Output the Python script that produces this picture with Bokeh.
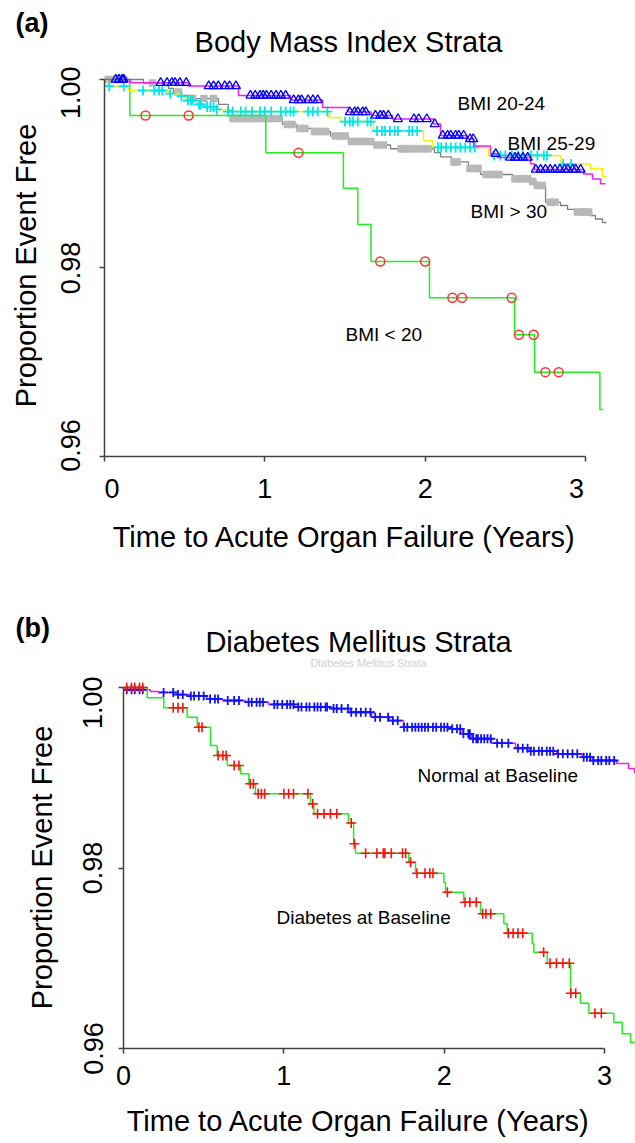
import numpy as np
from bokeh.plotting import figure
from bokeh.models import Label, FixedTicker, PrintfTickFormatter, Range1d
from bokeh.layouts import column, row
from bokeh.core.properties import value
from bokeh.embed import file_html
from bokeh.resources import INLINE

FONT = "Liberation Sans"

# ---------------- texts ----------------
title_a = "Body Mass Index Strata"
title_b = "Diabetes Mellitus Strata"
x_title = "Time to Acute Organ Failure (Years)"
y_title = "Proportion Event Free"

# ---------------- Panel (a): Body Mass Index strata ----------------
# Kaplan-Meier step curves: event times (years) and survival level after each step
bmi_lt20_t = [0, 0.158, 1.006, 1.49, 1.58, 1.6625, 2.027, 2.558, 2.683, 3.09, 3.11]
bmi_lt20_s = [1.0, 0.99618, 0.99222, 0.98847, 0.98462, 0.98069, 0.97684, 0.97291, 0.96895, 0.96499, 0.96499]
bmi_lt20_cens = [0.256, 0.525, 1.21, 1.72, 2.00, 2.17, 2.23, 2.54, 2.585, 2.677, 2.75, 2.833]

bmi_2024_t = [0, 0.162, 0.524, 0.836, 1.160, 1.360, 1.522, 1.665, 1.796, 2.052, 2.096, 2.258,
              2.302, 2.408, 2.451, 2.657, 2.682, 2.988, 3.044, 3.094, 3.125]
bmi_2024_s = [1.0, 0.99965, 0.99931, 0.9983, 0.99782, 0.99703, 0.99655, 0.99618, 0.99581, 0.99528,
              0.99406, 0.99369, 0.99294, 0.99212, 0.99172, 0.99106, 0.99045, 0.98997, 0.98944,
              0.98893, 0.98893]
bmi_2024_cens = [0.07, 0.09, 0.11, 0.12, 0.35, 0.39, 0.42, 0.44, 0.47, 0.51, 0.65, 0.68, 0.71,
                 0.75, 0.78, 0.82, 0.91, 0.94, 0.97, 0.99, 1.01, 1.04, 1.07, 1.10, 1.13, 1.18,
                 1.21, 1.23, 1.27, 1.30, 1.33, 1.53, 1.56, 1.58, 1.61, 1.63, 1.69, 1.72, 1.74,
                 1.77, 1.83, 1.93, 1.96, 2.01, 2.06, 2.11, 2.14, 2.16, 2.19, 2.21, 2.24, 2.28,
                 2.30, 2.44, 2.53, 2.56, 2.58, 2.61, 2.64, 2.69, 2.72, 2.75, 2.78, 2.81, 2.84,
                 2.87, 2.89, 2.92, 2.94, 2.97]

bmi_2529_t = [0, 0.019, 0.150, 0.399, 0.474, 0.511, 0.580, 0.636, 0.699, 0.761, 1.397, 1.472,
              1.678, 1.990, 2.046, 2.395, 2.844, 3.031, 3.106, 3.131]
bmi_2529_s = [1.0, 0.99929, 0.99883, 0.99851, 0.9982, 0.99777, 0.99735, 0.99708, 0.99682, 0.9966,
              0.99597, 0.99554, 0.99454, 0.99353, 0.99279, 0.99194, 0.99103, 0.99056, 0.98971,
              0.98971]
bmi_2529_cens = [0.03, 0.12, 0.24, 0.31, 0.34, 0.36, 0.41, 0.48, 0.52, 0.54, 0.55, 0.59, 0.60,
                 0.64, 0.66, 0.68, 0.70, 0.77, 0.80, 0.85, 0.88, 0.92, 0.97, 1.00, 1.04, 1.10,
                 1.13, 1.16, 1.18, 1.27, 1.30, 1.33, 1.39, 1.50, 1.53, 1.55, 1.58, 1.64, 1.66,
                 1.70, 1.73, 1.75, 1.78, 1.81, 1.83, 1.90, 1.92, 1.95, 2.08, 2.10, 2.13, 2.16,
                 2.19, 2.22, 2.25, 2.28, 2.31, 2.43, 2.47, 2.50, 2.54, 2.58, 2.61, 2.66, 2.70,
                 2.74, 2.76, 2.86, 2.91]

bmi_gt30_t = [0, 0.243, 0.368, 0.399, 0.430, 0.468, 0.549, 0.711, 0.773, 0.798, 1.110, 1.198,
              1.297, 1.410, 1.522, 1.678, 1.784, 2.058, 2.096, 2.164, 2.270, 2.345, 2.545,
              2.645, 2.694, 2.751, 2.844, 2.888, 2.931, 3.025, 3.062, 3.106, 3.131]
bmi_gt30_s = [1.0, 0.99963, 0.99936, 0.99905, 0.99867, 0.9983, 0.99798, 0.99735, 0.99671,
              0.99586, 0.99523, 0.9948, 0.99448, 0.994, 0.99342, 0.99305, 0.99265, 0.99225,
              0.99178, 0.99125, 0.99056, 0.98992, 0.98946, 0.98918, 0.98875, 0.98698,
              0.98663, 0.98621, 0.98594, 0.98557, 0.9852, 0.98483, 0.98483]
bmi_gt30_cens = [0.02, 0.05, 0.07, 0.10, 0.12, 0.30, 0.46, 0.55, 0.62, 0.68, 0.80, 0.82, 0.85,
                 0.87, 0.90, 0.92, 0.95, 0.97, 1.00, 1.02, 1.05, 1.09, 1.14, 1.17, 1.22, 1.25,
                 1.31, 1.33, 1.36, 1.38, 1.44, 1.47, 1.50, 1.54, 1.57, 1.60, 1.63, 1.66, 1.70,
                 1.74, 1.85, 1.87, 1.90, 1.93, 1.95, 1.99, 2.02, 2.18, 2.20, 2.28, 2.31, 2.33,
                 2.38, 2.41, 2.44, 2.46, 2.56, 2.59, 2.61, 2.64, 2.67, 2.70, 2.73, 2.78, 2.81,
                 2.95, 2.98, 3.00, 3.02]

# ---------------- Panel (b): Diabetes Mellitus strata ----------------
normal_t = [0, 0.02, 0.168, 0.218, 0.331, 0.412, 0.518, 0.617, 0.761, 0.904, 1.066, 1.297,
            1.416, 1.547, 1.659, 1.746, 2.046, 2.114, 2.171, 2.295, 2.445, 2.538, 2.701,
            2.863, 2.925, 3.075, 3.150, 3.187, 3.25]
normal_s = [1.0, 0.99975, 0.99956, 0.99945, 0.99922, 0.99906, 0.99873, 0.99856, 0.99837,
            0.99812, 0.99784, 0.99767, 0.99726, 0.99671, 0.99634, 0.9956, 0.99542, 0.99487,
            0.99432, 0.99383, 0.99327, 0.99294, 0.99265, 0.99228, 0.99191, 0.99158, 0.99103,
            0.99058, 0.99058]
normal_cens = [0.02, 0.05, 0.07, 0.10, 0.12, 0.25, 0.31, 0.34, 0.37, 0.42, 0.44, 0.47, 0.50,
               0.54, 0.57, 0.59, 0.65, 0.69, 0.72, 0.78, 0.80, 0.83, 0.85, 0.87, 0.94, 0.96,
               0.99, 1.02, 1.04, 1.06, 1.09, 1.11, 1.14, 1.16, 1.19, 1.21, 1.23, 1.26, 1.27,
               1.31, 1.33, 1.36, 1.40, 1.42, 1.45, 1.48, 1.51, 1.54, 1.57, 1.60, 1.65, 1.68,
               1.71, 1.75, 1.77, 1.80, 1.82, 1.84, 1.86, 1.88, 1.90, 1.93, 1.95, 1.98, 2.00,
               2.02, 2.05, 2.08, 2.10, 2.12, 2.15, 2.16, 2.18, 2.20, 2.21, 2.23, 2.25, 2.27,
               2.29, 2.33, 2.36, 2.40, 2.46, 2.49, 2.52, 2.54, 2.56, 2.59, 2.61, 2.64, 2.66,
               2.68, 2.71, 2.74, 2.77, 2.80, 2.83, 2.87, 2.89, 2.91, 2.93, 2.96, 2.98, 3.01,
               3.03, 3.06]

diab_t = [0, 0.148, 0.251, 0.397, 0.460, 0.543, 0.584, 0.647, 0.730, 0.782, 0.823, 1.166,
          1.187, 1.403, 1.435, 1.447, 1.779, 1.821, 1.998, 2.008, 2.122, 2.227, 2.372, 2.393,
          2.549, 2.559, 2.643, 2.788, 2.850, 2.902, 3.058, 3.110, 3.162, 3.25]
diab_s = [1.0, 0.99886, 0.99775, 0.99671, 0.9956, 0.99357, 0.99247, 0.99136, 0.99044, 0.98933,
          0.98822, 0.98711, 0.986, 0.98499, 0.98268, 0.98164, 0.98064, 0.97942, 0.97843,
          0.97732, 0.97621, 0.97493, 0.97382, 0.97278, 0.9716, 0.97067, 0.96945, 0.96613,
          0.96502, 0.9639, 0.96291, 0.96163, 0.96066, 0.96066]
diab_cens = [0.02, 0.05, 0.07, 0.10, 0.12, 0.31, 0.34, 0.37, 0.47, 0.49, 0.59, 0.62, 0.64,
             0.69, 0.72, 0.79, 0.81, 0.84, 0.86, 0.88, 1.00, 1.03, 1.06, 1.15, 1.18, 1.21,
             1.25, 1.29, 1.33, 1.42, 1.44, 1.51, 1.58, 1.62, 1.63, 1.67, 1.74, 1.76, 1.79,
             1.83, 1.88, 1.91, 1.93, 2.02, 2.13, 2.16, 2.20, 2.24, 2.26, 2.29, 2.40, 2.43,
             2.46, 2.49, 2.62, 2.66, 2.70, 2.74, 2.78, 2.79, 2.82, 2.94, 2.98]

x_ticks = [0, 1, 2, 3]
y_ticks = [0.96, 0.98, 1.00]
x_tick_labels = ["0", "1", "2", "3"]
y_tick_labels = ["0.96", "0.98", "1.00"]
# in panel (a) the end labels sit nudged inward along their axes, as in the original figure
a_x_label_at = [0.047, 1.0, 2.0, 2.944]
a_y_label_at = [0.96117, 0.98, 0.99915]

W = 635
BASE_SHIFT = 0.39  # rendered baseline sits this many em below the anchor
AXIS_COLOR = "#404040"


def level_at(times, surv, tc):
    idx = np.searchsorted(np.asarray(times), np.asarray(tc), side="right") - 1
    return np.asarray(surv)[idx]


def text_fig(width, height, items, b_top=0, b_bottom=0):
    """Strip without axes; items are placed in pixels (x from left, baseline from top)."""
    fh = height - b_top - b_bottom
    p = figure(width=width, height=height, x_range=Range1d(0, width), y_range=Range1d(0, fh),
               x_axis_type=None, y_axis_type=None, output_backend="svg",
               toolbar_location=None, tools="", title=None, min_border_left=0,
               min_border_right=0, min_border_top=b_top, min_border_bottom=b_bottom)
    p.outline_line_color = None
    p.background_fill_color = "white"
    p.border_fill_color = "white"
    for x, base, txt, size, style, align, color, angle in items:
        if angle:
            xx, yy = x - BASE_SHIFT * size, fh - (base - b_top)
        else:
            xx, yy = x, fh - (base - b_top - BASE_SHIFT * size)
        p.text(x=[xx], y=[yy], text=[txt], text_font=value(FONT),
               text_font_size=value(f"{size}px"), text_font_style=style, text_align=align,
               text_baseline="alphabetic", text_color=color, angle=angle)
    return p


def setup_axis(ax, ticks, labels, label_at, standoff):
    """Tick marks at the true values; labels (if label_at is given) at nudged positions."""
    ax.axis_line_color = AXIS_COLOR
    ax.axis_line_width = 1.5
    ax.major_label_text_font = FONT
    ax.major_label_text_font_size = "27px"
    ax.major_label_text_color = "black"
    if label_at is None:
        ax.ticker = FixedTicker(ticks=ticks)
        ax.major_tick_line_color = AXIS_COLOR
        ax.major_tick_line_width = 1.5
        ax.major_tick_out = 5
        ax.major_tick_in = 0
        ax.minor_tick_line_color = None
        ax.major_label_overrides = dict(zip(ticks, labels))
        ax.major_label_standoff = standoff
    else:
        ax.ticker = FixedTicker(ticks=label_at, minor_ticks=ticks)
        ax.major_tick_line_color = None
        ax.major_tick_out = 0
        ax.major_tick_in = 0
        ax.minor_tick_line_color = AXIS_COLOR
        ax.minor_tick_line_width = 1.5
        ax.minor_tick_out = 5
        ax.minor_tick_in = 0
        ax.major_label_overrides = dict(zip(label_at, labels))
        ax.major_label_standoff = standoff + 5


def make_fig(width, height, x_end, y_end, b_left, b_top, b_bottom, y_standoff,
             x_label_at=None, y_label_at=None):
    p = figure(width=width, height=height, x_range=Range1d(0, x_end), y_range=Range1d(0.96, y_end),
               output_backend="svg", toolbar_location=None, tools="", title=None,
               min_border_left=b_left, min_border_right=0, min_border_top=b_top,
               min_border_bottom=b_bottom)
    p.grid.visible = False
    p.outline_line_color = None
    p.background_fill_color = "white"
    p.border_fill_color = "white"
    setup_axis(p.xaxis[0], x_ticks, x_tick_labels, x_label_at, 12)
    p.xaxis.bounds = (0, 3)
    setup_axis(p.yaxis[0], y_ticks, y_tick_labels, y_label_at, y_standoff)
    p.yaxis.bounds = (0.96, 1.00)
    p.yaxis.formatter = PrintfTickFormatter(format="%.2f")
    p.yaxis.major_label_orientation = "parallel"
    return p


def add_text(p, x, y, text, px_per_unit, size=19):
    p.add_layout(Label(x=x, y=y + BASE_SHIFT * size / px_per_unit, text=text, text_font=FONT,
                       text_font_size=f"{size}px", text_font_style="normal", text_align="left",
                       text_baseline="alphabetic", text_color="black"))


def km(p, t, s, cens, line_color, marker, mcolor, msize, filled=False, lw=1.5, mlw=1.5):
    p.step(x=t, y=s, mode="after", line_color=line_color, line_width=lw)
    cy = level_at(t, s, cens)
    if filled:
        p.scatter(x=cens, y=cy, marker=marker, size=msize, fill_color=mcolor,
                  line_color=mcolor, line_width=0.5)
    else:
        p.scatter(x=cens, y=cy, marker=marker, size=msize, fill_color=None,
                  line_color=mcolor, line_width=mlw)


VERT = np.pi / 2
PXA = 9425.0  # pixels per unit of survival, panel (a)
PXB = 9025.0  # pixels per unit of survival, panel (b)

# ---- panel (a) ----
head_a = text_fig(W, 66, [(15, 33, "(a)", 27, "bold", "left", "black", 0.0),
                          (348, 53, title_a, 29, "normal", "center", "black", 0.0)])

ystrip_a = text_fig(44, 439, [(37, 199, y_title, 29, "normal", "center", "black", VERT)],
                    b_top=0, b_bottom=49)
pa = make_fig(W - 44, 439, 3.312, 1.001379, 60, 0, 49, 14,
              x_label_at=a_x_label_at, y_label_at=a_y_label_at)
km(pa, bmi_gt30_t, bmi_gt30_s, bmi_gt30_cens, "#808080", "square", "#b8b8b8", 7, filled=True, lw=1.3)
km(pa, bmi_lt20_t, bmi_lt20_s, bmi_lt20_cens, "#1ef01e", "circle", "#ff3333", 9)
km(pa, bmi_2529_t, bmi_2529_s, bmi_2529_cens, "#f2f200", "cross", "#00e5f0", 10, mlw=1.8)
km(pa, bmi_2024_t, bmi_2024_s, bmi_2024_cens, "#f020f0", "triangle", "#0000ff", 9, mlw=1.3)
add_text(pa, 2.202, 0.99664, "BMI 20-24", PXA)
add_text(pa, 2.514, 0.99247, "BMI 25-29", PXA)
add_text(pa, 2.283, 0.98525, "BMI > 30", PXA)
add_text(pa, 1.503, 0.97220, "BMI < 20", PXA)

foot_a = text_fig(W, 75, [(344, 43, x_title, 29, "normal", "center", "black", 0.0)])

# ---- panel (b) ----
head_b = text_fig(W, 96, [(15, 58, "(b)", 27, "bold", "left", "black", 0.0),
                          (358, 73, title_b, 29, "normal", "center", "black", 0.0),
                          (368, 87, title_b, 11, "normal", "center", "#d0d0d0", 0.0)])

ystrip_b = text_fig(62, 419, [(53, 191, y_title, 29, "normal", "center", "black", VERT)],
                    b_top=0, b_bottom=47)
pb = make_fig(W - 62, 419, 3.193, 1.001219, 61, 0, 47, 16)
km(pb, normal_t, normal_s, normal_cens, "#f020f0", "cross", "#1010ff", 9, mlw=1.8)
km(pb, diab_t, diab_s, diab_cens, "#1ef01e", "cross", "#ff1010", 10, mlw=1.6)
add_text(pb, 1.834, 0.98947, "Normal at Baseline", PXB)
add_text(pb, 0.954, 0.97374, "Diabetes at Baseline", PXB)

foot_b = text_fig(W, 48, [(358, 37, x_title, 29, "normal", "center", "black", 0.0)])

layout = column(head_a, row(ystrip_a, pa, spacing=0), foot_a,
                head_b, row(ystrip_b, pb, spacing=0), foot_b, spacing=0)
open("out.html", "w").write(file_html(layout, INLINE))
